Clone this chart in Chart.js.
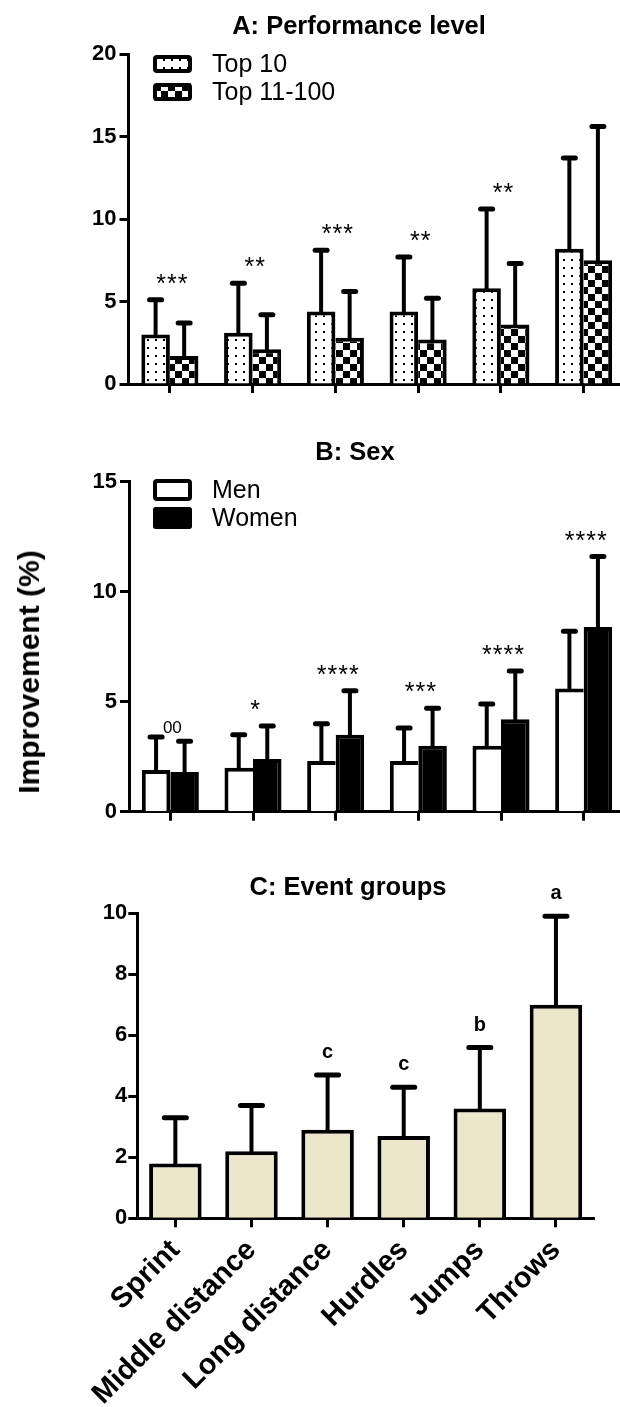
<!DOCTYPE html>
<html><head><meta charset="utf-8">
<script src="https://cdn.jsdelivr.net/npm/chart.js@4.4.1/dist/chart.umd.min.js"></script>
<style>
html,body{margin:0;padding:0;background:#fff;overflow:hidden;width:620px;height:1407px;position:relative;}
.pane{position:absolute;left:0;}
#ylab{position:absolute;left:29px;top:672px;font:bold 30px "Liberation Sans",Arial,sans-serif;white-space:nowrap;color:#000;transform:translate(-50%,-50%) rotate(-90deg);}
</style></head><body>
<div class="pane" style="top:0px"><canvas id="cA" width="626" height="405"></canvas></div>
<div class="pane" style="top:410px"><canvas id="cB" width="626" height="420"></canvas></div>
<div class="pane" style="top:860px"><canvas id="cC" width="626" height="547"></canvas></div>
<div id="ylab">Improvement (%)</div>
<script>
// ---------- data ----------
const categories = ['Sprint','Middle distance','Long distance','Hurdles','Jumps','Throws'];

const perfLabels = ['Top 10','Top 11-100'];
const top10Mean = [3.0, 3.1, 4.4, 4.4, 5.8, 8.2];
const top10SD   = [2.1, 3.0, 3.7, 3.3, 4.8, 5.5];
const top11Mean = [1.7, 2.1, 2.8, 2.7, 3.6, 7.5];
const top11SD   = [2.0, 2.1, 2.8, 2.5, 3.7, 8.1];
const perfSig   = ['***','**','***','**','**',''];
const perfTicks = [0, 5, 10, 15, 20];

const sexLabels = ['Men','Women'];
const menMean   = [1.9, 2.0, 2.3, 2.3, 3.0, 5.6];
const menSD     = [1.5, 1.5, 1.7, 1.5, 1.9, 2.6];
const womenMean = [1.8, 2.4, 3.5, 3.0, 4.2, 8.4];
const womenSD   = [1.4, 1.5, 2.0, 1.7, 2.2, 3.2];
const sexSig    = ['00','*','****','***','****','****'];
const sexTicks  = [0, 5, 10, 15];

const eventMean = [1.8, 2.2, 2.9, 2.7, 3.6, 7.0];
const eventSD   = [1.5, 1.5, 1.8, 1.6, 2.0, 2.9];
const eventSig  = ['','','c','c','b','a'];
const eventTicks = [0, 2, 4, 6, 8, 10];

const titles = ['A: Performance level','B: Sex','C: Event groups'];

// ---------- helpers ----------
const FONT = '"Liberation Sans", Arial, sans-serif';
Chart.defaults.font.family = FONT;
Chart.defaults.color = '#000';

function dotPattern(ctx){
  const c=document.createElement('canvas'); c.width=8; c.height=8;
  const g=c.getContext('2d'); g.fillStyle='#fff'; g.fillRect(0,0,8,8);
  g.fillStyle='#000'; g.fillRect(3,3,2,2);
  return ctx.createPattern(c,'repeat');
}
function checkerPattern(ctx){
  const c=document.createElement('canvas'); c.width=14; c.height=14;
  const g=c.getContext('2d'); g.fillStyle='#fff'; g.fillRect(0,0,14,14);
  g.fillStyle='#000'; g.fillRect(0,0,7,7); g.fillRect(7,7,7,7);
  return ctx.createPattern(c,'repeat');
}
function pairBorder(idx){
  return (c)=>{
    const i=c.dataIndex, ds=c.chart.data.datasets;
    const a=ds[0].data[i], b=ds[1].data[i], w=4;
    if(idx===0) return {top:w,left:w,right:(a>=b?w:0),bottom:0};
    return {top:w,right:w,left:(b>a?w:0),bottom:0};
  };
}
function yScale(tickArr, width, pad){
  return {
    min:tickArr[0], max:tickArr[tickArr.length-1],
    afterBuildTicks:s=>{ s.ticks = tickArr.map(v=>({value:v})); },
    afterFit:s=>{ s.width = width; },
    border:{display:true,color:'#000',width:3},
    grid:{display:true,drawOnChartArea:false,drawTicks:true,tickLength:9,tickWidth:3,tickColor:'#000',color:'#000'},
    ticks:{color:'#000',padding:pad,font:{family:FONT,size:22,weight:'bold'}}
  };
}
function xScale(height, showLabels){
  return {
    type:'category', offset:true,
    afterFit:s=>{ s.height = height; },
    border:{display:true,color:'#000',width:3},
    grid:{display:true,offset:false,drawOnChartArea:false,drawTicks:true,tickLength:9,tickWidth:3,tickColor:'#000',color:'#000'},
    ticks: showLabels ? {display:true,autoSkip:false,maxRotation:45,minRotation:45,padding:6,color:'#000',font:{family:FONT,size:29,weight:'bold'}} : {display:false}
  };
}

const errorBars = {
  id:'errorBars',
  afterDatasetsDraw(chart,args,o){
    const ctx=chart.ctx, y=chart.scales.y;
    chart.data.datasets.forEach((ds,di)=>{
      chart.getDatasetMeta(di).data.forEach((bar,i)=>{
        const top=y.getPixelForValue(ds.data[i]+ds.sd[i]);
        ctx.save(); ctx.strokeStyle='#000';
        ctx.lineWidth=o.lineWidth; ctx.beginPath(); ctx.moveTo(bar.x,bar.y+2); ctx.lineTo(bar.x,top); ctx.stroke();
        ctx.lineWidth=o.capWidth; ctx.lineCap='round'; ctx.beginPath();
        ctx.moveTo(bar.x-o.capHalf,top); ctx.lineTo(bar.x+o.capHalf,top); ctx.stroke();
        ctx.restore();
      });
    });
  }
};
const sigLabels = {
  id:'sigLabels',
  afterDatasetsDraw(chart,args,o){
    const ctx=chart.ctx, x=chart.scales.x, y=chart.scales.y;
    o.labels.forEach((t,i)=>{
      if(!t) return;
      let m=-Infinity;
      chart.data.datasets.forEach(ds=>{ m=Math.max(m, ds.data[i]+ds.sd[i]); });
      const isDigit=/\d/.test(t);
      const py=y.getPixelForValue(m)-(isDigit?o.digitGap:o.gap);
      const px=x.getPixelForValue(i);
      ctx.save(); ctx.fillStyle='#000'; ctx.font=(isDigit?o.digitFont:o.font);
      ctx.textAlign='left'; ctx.textBaseline='alphabetic';
      const sp=/\*/.test(t)?o.spacing:0;
      const chars=[...t]; let w=0; chars.forEach((c,k)=>{ w+=ctx.measureText(c).width + (k<chars.length-1?sp:0); });
      let cx=px-w/2+o.shift;
      chars.forEach(c=>{ ctx.fillText(c,cx,py); cx+=ctx.measureText(c).width+sp; });
      ctx.restore();
    });
  }
};
const panelTitle = {
  id:'panelTitle',
  afterDraw(chart,args,o){
    const ctx=chart.ctx; ctx.save(); ctx.fillStyle='#000';
    ctx.font='bold 25.5px '+FONT; ctx.textAlign='center'; ctx.textBaseline='alphabetic';
    ctx.fillText(o.text,o.x,o.y); ctx.restore();
  }
};
const boxLegend = {
  id:'boxLegend',
  afterDraw(chart,args,o){
    if(!o.show) return;
    const ctx=chart.ctx;
    chart.data.datasets.forEach((ds,i)=>{
      const bx=o.x, by=o.y+i*o.step, bw=o.w, bh=o.h;
      ctx.save();
      ctx.beginPath(); ctx.roundRect(bx,by,bw,bh,3);
      ctx.fillStyle=ds.backgroundColor; ctx.fill();
      ctx.lineWidth=4; ctx.strokeStyle='#000';
      ctx.beginPath(); ctx.roundRect(bx+2,by+2,bw-4,bh-4,2); ctx.stroke();
      ctx.fillStyle='#000'; ctx.font='25px '+FONT; ctx.textAlign='left'; ctx.textBaseline='middle';
      ctx.fillText(ds.label,bx+bw+20,by+bh/2+1);
      ctx.restore();
    });
  }
};

function makeChart(id, datasets, opts){
  const ctx=document.getElementById(id).getContext('2d');
  return new Chart(ctx,{
    type:'bar',
    data:{labels:categories, datasets:datasets(ctx)},
    options:{
      responsive:false, animation:false, devicePixelRatio:1,
      layout:{padding:opts.padding},
      datasets:{bar:{categoryPercentage:0.69,barPercentage:1,borderColor:'#000',borderSkipped:'start'}},
      scales:{x:xScale(opts.xh, opts.xlabels), y:yScale(opts.ticks, opts.yw, opts.ypad)},
      plugins:{
        legend:{display:false}, tooltip:{enabled:false},
        errorBars:opts.err, sigLabels:opts.sig,
        panelTitle:opts.title, boxLegend:opts.legend
      }
    },
    plugins:[errorBars, sigLabels, panelTitle, boxLegend]
  });
}

const starOpts = {gap:8,digitGap:4,font:'25px '+FONT,digitFont:'17px '+FONT,spacing:1,shift:2};

makeChart('cA', ctx=>[
  {label:perfLabels[0], data:top10Mean, sd:top10SD, backgroundColor:dotPattern(ctx), borderWidth:pairBorder(0)},
  {label:perfLabels[1], data:top11Mean, sd:top11SD, backgroundColor:checkerPattern(ctx), borderWidth:pairBorder(1)}
],{
  padding:{top:54,right:1,left:0,bottom:0}, xh:21, xlabels:false, ticks:perfTicks, yw:128.5, ypad:3,
  err:{lineWidth:4,capWidth:5,capHalf:6},
  sig:Object.assign({labels:perfSig},starOpts),
  title:{text:titles[0],x:359,y:34},
  legend:{show:true,x:153,y:55,step:28,w:39,h:18}
});

makeChart('cB', ctx=>[
  {label:sexLabels[0], data:menMean, sd:menSD, backgroundColor:'#fff', borderWidth:pairBorder(0)},
  {label:sexLabels[1], data:womenMean, sd:womenSD, backgroundColor:'#000', borderWidth:pairBorder(1)}
],{
  padding:{top:71.7,right:1,left:0,bottom:0}, xh:18.3, xlabels:false, ticks:sexTicks, yw:129, ypad:3,
  err:{lineWidth:4,capWidth:5,capHalf:6},
  sig:Object.assign({labels:sexSig},starOpts),
  title:{text:titles[1],x:355,y:50},
  legend:{show:true,x:153,y:69,step:28,w:39,h:22}
});

makeChart('cC', ctx=>[
  {label:'Event groups', data:eventMean, sd:eventSD, backgroundColor:'#ECE6CA', borderWidth:{top:4,left:4,right:4,bottom:0}}
],{
  padding:{top:53.3,right:32,left:0,bottom:0}, xh:188.7, xlabels:true, ticks:eventTicks, yw:137.3, ypad:1,
  err:{lineWidth:4,capWidth:5,capHalf:11},
  sig:{labels:eventSig,gap:17,digitGap:17,font:'bold 20px '+FONT,digitFont:'bold 20px '+FONT,spacing:0,shift:0},
  title:{text:titles[2],x:348,y:35},
  legend:{show:false}
});
</script>
</body></html>
